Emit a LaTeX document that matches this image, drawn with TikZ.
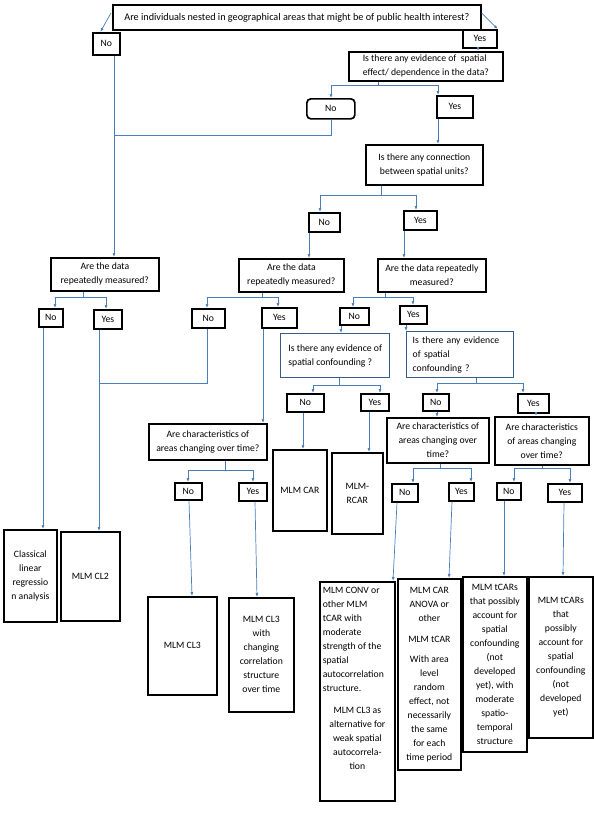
\documentclass[tikz,border=0pt]{standalone}
\usepackage{fontspec}
\setmainfont{Carlito}
\usetikzlibrary{arrows.meta}
\definecolor{linkblue}{RGB}{74,126,187}
\definecolor{cfblue}{RGB}{56,93,138}
\newcommand{\FCbox}[7][qbox]{\node[#1,anchor=north west,minimum width={#5pt-#3pt},minimum height={#6pt-#4pt}] (#2) at (#3,#4) {#7};}
\newcommand{\FCdrop}[4]{\draw[link,->] (#1.south -| #3,0) -- (#2.north -| #4,0);}
\newcommand{\FCfork}[7]{\coordinate (#1bar) at (#2,#3);
  \draw[link,->] (#1.south -| #1bar) -- (#1bar) -| (#4.north -| #5,0);
  \draw[link,->] (#1bar) -| (#6.north -| #7,0);}

\begin{document}
\begin{tikzpicture}[x=1pt,y=-1pt,font=\fontsize{9.7}{14}\selectfont,
  qbox/.style={draw,line width=1.7pt,inner sep=2pt,align=center},
  cfbox/.style={draw=cfblue,line width=1.4pt,inner sep=3pt,align=left},
  link/.style={draw=linkblue,line width=0.7pt},
  >={Latex[length=4pt,width=3pt]}]
  \useasboundingbox (0,0) rectangle (594,839);
  % questions
  \FCbox[qbox,font=\fontsize{10.2}{14}\selectfont]{Q1}{112}{4}{480}{29}{Are individuals nested in geographical areas that might be of public health interest?}
  \FCbox[qbox,align=left]{Q2}{348}{51}{502}{80}{Is there any evidence of \ spatial\\effect/ dependence in the data?}
  \FCbox{Q3}{365}{144}{482}{184}{Is there any connection\\between spatial units?}
  \FCbox{QL}{50}{257}{158}{290}{Are the data\\repeatedly measured?}
  \FCbox{QM}{238}{258}{343}{291}{Are the data\\repeatedly measured?}
  \FCbox{QR}{377}{258}{485}{291}{Are the data repeatedly\\measured?}
  \FCbox[cfbox]{CFL}{280}{333}{389}{377}{Is there any evidence of\\spatial confounding ?}
  \FCbox[cfbox,text width=95pt]{CFR}{406}{331}{513}{377}{Is there any evidence\\of spatial\\confounding ?}
  \FCbox{CHL}{148}{423}{266}{459}{Are characteristics of\\areas changing over time?}
  \FCbox{CHM}{386}{417}{488}{462}{Are characteristics of\\areas changing over\\time?}
  \FCbox{CHR}{494}{416}{588}{464}{Are characteristics\\of areas changing\\over time?}
  % answers
  \FCbox{noA}{92}{32}{119}{54}{No}
  \FCbox{yesA}{462}{29}{496}{47}{Yes}
  \FCbox[qbox,rounded corners=4pt]{noB}{306}{98}{354}{118}{No}
  \FCbox{yesB}{436}{95}{472}{117}{Yes}
  \FCbox{noC}{308}{212}{339}{231}{No}
  \FCbox{yesC}{403}{210}{436}{229}{Yes}
  \FCbox{noD}{38}{308}{62}{326}{No}
  \FCbox{yesD}{93}{309}{121}{328}{Yes}
  \FCbox{noE}{191}{308}{224}{327}{No}
  \FCbox{yesE}{261}{307}{296}{327}{Yes}
  \FCbox{noF}{339}{307}{368}{324}{No}
  \FCbox{yesF}{399}{305}{426}{323}{Yes}
  \FCbox{noG}{286}{393}{323}{411}{No}
  \FCbox{yesG}{360}{393}{388}{410}{Yes}
  \FCbox{noH}{422}{393}{448}{410}{No}
  \FCbox{yesH}{517}{393}{548}{412}{Yes}
  \FCbox{noI}{174}{482}{201}{499}{No}
  \FCbox{yesI}{238}{482}{266}{500}{Yes}
  \FCbox{noJ}{391}{483}{417}{501}{No}
  \FCbox{yesJ}{448}{482}{473}{500}{Yes}
  \FCbox{noK}{496}{482}{520}{499}{No}
  \FCbox{yesK}{547}{483}{581}{501}{Yes}
  % models
  \FCbox{lfLin}{3}{529}{56}{621}{Classical\\linear\\regressio\\n analysis}
  \FCbox{lfCLb}{60}{531}{119}{620}{MLM CL2}
  \FCbox{lfCAR}{272}{449}{326}{530}{MLM CAR}
  \FCbox{lfRCAR}{331}{452}{382}{533}{MLM-\\RCAR}
  \FCbox{lfCLc}{147}{596}{216}{694}{MLM CL3}
  \FCbox{lfCLcv}{228}{597}{293}{711}{MLM CL3\\with\\changing\\correlation\\structure\\over time}
  \FCbox[qbox,inner sep=3pt]{lfCONV}{319}{581}{394}{800}{\parbox[c][213pt][t]{69pt}{\vspace{2pt}\raggedright MLM CONV or\\other MLM\\tCAR with\\moderate\\strength of the\\spatial\\autocorrelation\\structure.\par\vspace{8pt}\centering MLM CL3 as\\alternative for\\weak spatial\\autocorrela-\\tion\par}}
  \FCbox{lfANOVA}{397}{578}{460}{769}{MLM CAR\\ANOVA or\\other\\[7pt]MLM tCAR\\[6pt]With area\\level\\random\\effect, not\\necessarily\\the same\\for each\\time period}
  \FCbox{lfTA}{462}{576}{526}{751}{MLM tCARs\\that possibly\\account for\\spatial\\confounding\\(not\\developed\\yet), with\\moderate\\spatio-\\temporal\\structure}
  \FCbox{lfTB}{528}{576}{592}{737}{MLM tCARs\\that\\possibly\\account for\\spatial\\confounding\\(not\\developed\\yet)}
  % connectors
  \draw[link,->] ([xshift=-1pt,yshift=-9pt]Q1.north west) -- ([xshift=-6pt]noA.north);
  \draw[link,->] ([yshift=-9pt]Q1.north east) -- (yesA.north east);
  \FCdrop{yesA}{Q2}{478}{478}
  \FCfork{Q2}{378}{85}{noB}{331}{yesB}{438}
  \coordinate (mergeA) at (114,135);
  \draw[link] (noB.south) |- (mergeA);
  \FCdrop{noA}{QL}{114}{114}
  \FCdrop{yesB}{Q3}{438}{438}
  \FCfork{Q3}{381}{195}{noC}{320}{yesC}{416}
  \FCdrop{noC}{QM}{309}{309}
  \FCdrop{yesC}{QR}{404}{404}
  \FCfork{QL}{83}{297}{noD}{55}{yesD}{106}
  \FCfork{QM}{262}{297}{noE}{207}{yesE}{278}
  \FCfork{QR}{385}{297}{noF}{353}{yesF}{413}
  \FCdrop{noD}{lfLin}{43}{43}
  \FCdrop{yesD}{lfCLb}{99}{99}
  \coordinate (mergeB) at (99,383);
  \draw[link] (noE.south -| 207,0) |- (mergeB);
  \FCdrop{yesE}{CHL}{263}{263}
  \FCdrop{noF}{CFL}{341}{341}
  \FCdrop{yesF}{CFR}{406}{406}
  \FCfork{CFL}{339}{385}{noG}{313}{yesG}{380}
  \FCfork{CFR}{476}{383}{noH}{437}{yesH}{523}
  \FCdrop{noG}{lfCAR}{303}{303}
  \FCdrop{yesG}{lfRCAR}{369}{369}
  \FCdrop{noH}{CHM}{437}{437}
  \FCdrop{yesH}{CHR}{536}{536}
  \FCfork{CHL}{225}{470}{noI}{188}{yesI}{253}
  \FCfork{CHM}{440}{468}{noJ}{413}{yesJ}{471}
  \FCfork{CHR}{542}{468}{noK}{514}{yesK}{570}
  \FCdrop{noI}{lfCLc}{189}{192}
  \FCdrop{yesI}{lfCLcv}{255}{257}
  \FCdrop{noJ}{lfCONV}{397}{393}
  \FCdrop{yesJ}{lfANOVA}{452}{449}
  \FCdrop{noK}{lfTA}{504}{504}
  \FCdrop{yesK}{lfTB}{564}{563}
\end{tikzpicture}
\end{document}
